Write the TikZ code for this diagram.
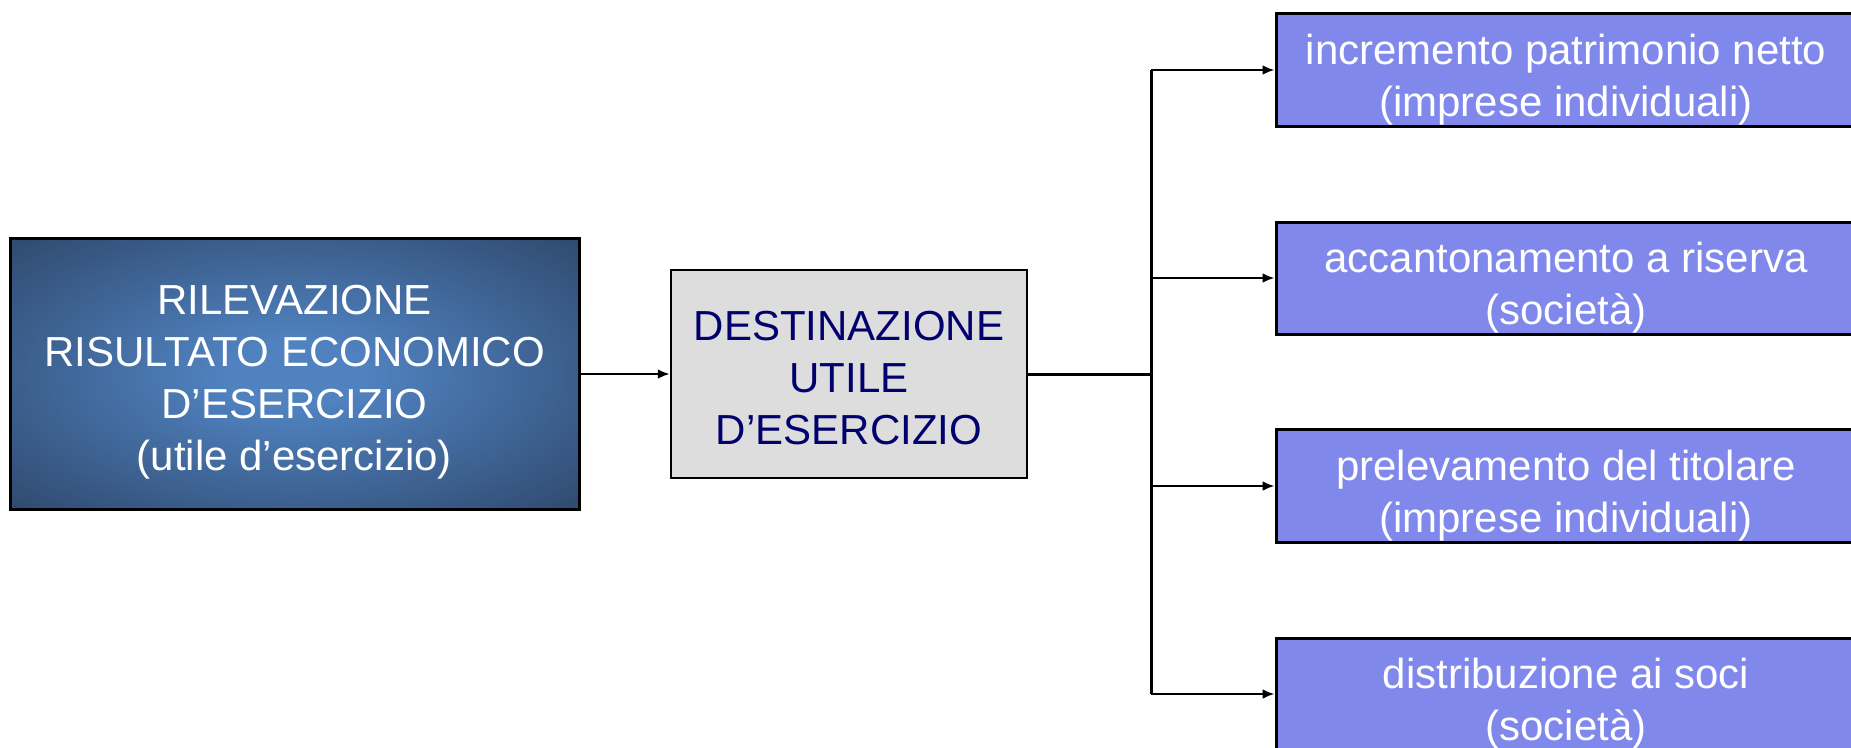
\documentclass[tikz,border=0pt]{standalone}
\usepackage{fontspec}
\setmainfont{Liberation Sans}
\usetikzlibrary{arrows.meta}

\definecolor{glowin}{RGB}{80,130,192}
\definecolor{glowout}{RGB}{40,61,92}
\definecolor{midfill}{RGB}{221,221,221}
\definecolor{midtext}{RGB}{0,0,110}
\definecolor{outfill}{RGB}{128,137,235}

% bright centre fading to a dark rim
\pgfdeclareradialshading{boxglow}{\pgfpointorigin}{color(0bp)=(glowin); color(6bp)=(glowin); color(42bp)=(glowout); color(50bp)=(glowout)}

% invisible rule that lowers a centred text block
\newcommand\padtop[1]{\rule{0pt}{#1}}

\tikzset{
  box/.style={draw=black, line width=3pt, align=center, inner sep=0pt,
    font=\fontsize{42}{52}\selectfont},
  srcbox/.style={box, shading=boxglow, text=white},
  midbox/.style={box, fill=midfill, text=midtext, line width=2.5pt},
  outbox/.style={box, fill=outfill, text=white, minimum width=580pt},
  conn/.style={line width=2.4pt, -{Latex[length=12pt,width=10pt]}},
  trunk/.style={line width=3pt}
}

\begin{document}
\begin{tikzpicture}[x=1pt,y=-1pt]
\useasboundingbox (0,0) rectangle (1851,747);
\clip (0,0) rectangle (1851,747);

\node[srcbox, minimum width=569pt, minimum height=271pt] (src) at (294.5,374)
  {\padtop{45pt}RILEVAZIONE\\RISULTATO ECONOMICO\\D’ESERCIZIO\\(utile d’esercizio)};

\node[midbox, minimum width=356pt, minimum height=208pt] (dst) at (849,374)
  {\padtop{38pt}DESTINAZIONE\\UTILE\\D’ESERCIZIO};

\node[outbox, minimum height=113pt] (o1) at (1566,70)
  {\padtop{49pt}incremento patrimonio netto\\(imprese individuali)};
\node[outbox, minimum height=112pt] (o2) at (1566,278)
  {\padtop{49pt}accantonamento a riserva\\(società)};
\node[outbox, minimum height=113pt] (o3) at (1566,486)
  {\padtop{49pt}prelevamento del titolare\\(imprese individuali)};
\node[outbox, minimum height=112pt] (o4) at (1566,694)
  {\padtop{49pt}distribuzione ai soci\\(società)};

\coordinate (fork) at (1151,374);

\draw[conn] (src.east) -- (dst.west);
\draw[trunk] (dst.east) -- (fork);
\draw[trunk] (o1.west -| fork) -- (o4.west -| fork);
\foreach \o in {o1,o2,o3,o4}
  \draw[conn] (\o.west -| fork) -- (\o.west);
\end{tikzpicture}
\end{document}
